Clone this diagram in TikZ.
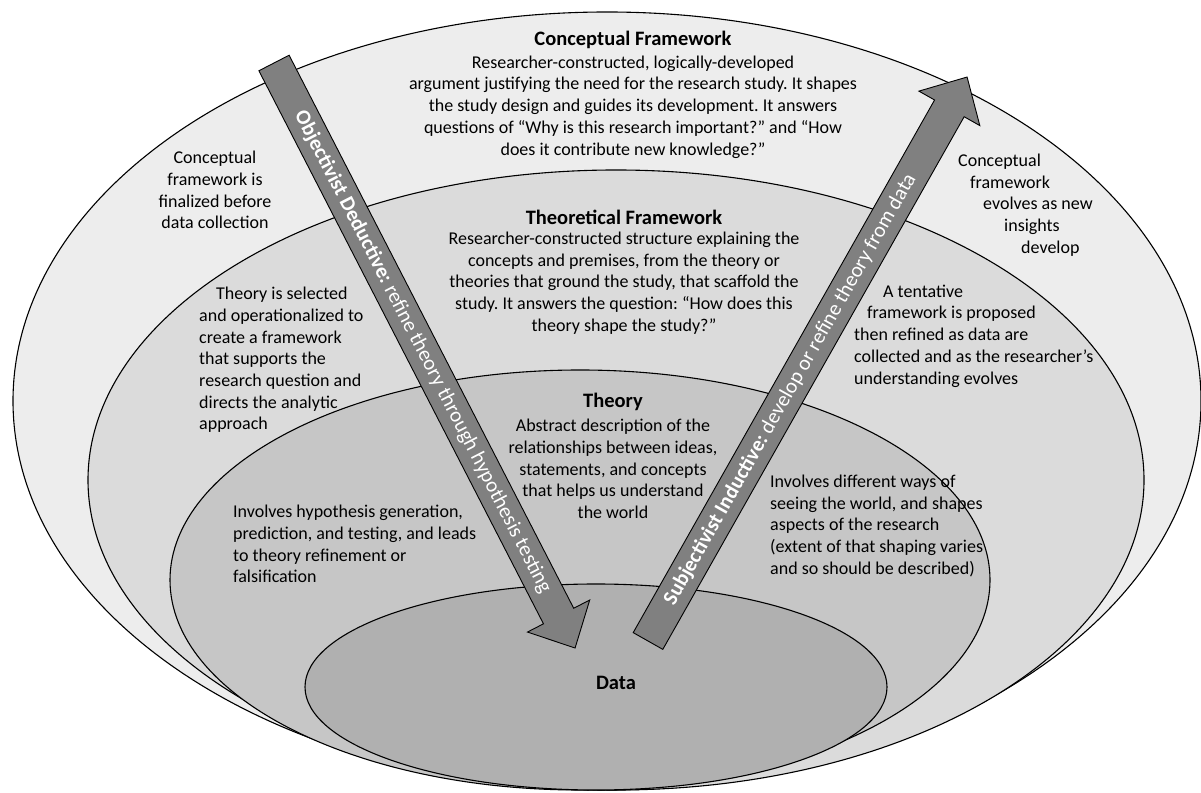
\documentclass[tikz,border=0pt]{standalone}
\usepackage{fontspec}
\setmainfont{Carlito}
\frenchspacing
\definecolor{ringA}{gray}{0.93}
\definecolor{ringB}{gray}{0.86}
\definecolor{ringC}{gray}{0.775}
\definecolor{ringD}{gray}{0.69}
\definecolor{shaft}{gray}{0.50}

\begin{document}
\begin{tikzpicture}[x=1pt, y=1pt,
      ring/.style ={draw, line width=1.1pt},
      heading/.style ={inner sep=0pt, font=\bfseries\fontsize{20.5}{22}\selectfont},
      body/.style ={inner sep=0pt, align=center, font=\fontsize{18}{21.7}\selectfont},
      side/.style ={inner sep=0pt, align=left, anchor=west, font=\fontsize{18}{21.7}\selectfont},
      bigarrow/.style ={fill=shaft, draw=black, line width=0.9pt},
      arrowtext/.style ={inner sep=0pt, text=white, font=\fontsize{21}{22}\selectfont}]
   \useasboundingbox (0,0) rectangle (1201,792);

   \draw[ring, fill=ringA] (607,391) ellipse [x radius=594pt, y radius=389pt];
   \draw[ring, fill=ringB] (616,312) ellipse [x radius=528pt, y radius=310pt];
   \draw[ring, fill=ringC] (580,212) ellipse [x radius=410pt, y radius=210pt];
   \draw[ring, fill=ringD] (596,105) ellipse [x radius=291pt, y radius=103pt];

   \node[heading] (cfTitle) at (633,752) {Conceptual Framework};
   \node[body] (cfText) at (633,685) {Researcher-constructed, logically-developed\\
      argument justifying the need for the research study. It shapes\\
      the study design and guides its development. It answers\\
      questions of “Why is this research important?” and “How\\
      does it contribute new knowledge?”};
   \node[body] (cfBefore) at (215,602) {Conceptual\\framework is\\finalized before\\data collection};
   \node[side] (cfEvolves) at (958,587) {Conceptual\\
      \hspace*{12pt}framework\\
      \hspace*{25pt}evolves as new\\
      \hspace*{46pt}insights\\
      \hspace*{63pt}develop};

   \node[heading] (tfTitle) at (624,575) {Theoretical Framework};
   \node[body] (tfText) at (624,509) {Researcher-constructed structure explaining the\\
      concepts and premises, from the theory or\\
      theories that ground the study, that scaffold the\\
      study. It answers the question: “How does this\\
      theory shape the study?”};
   \node[side] (tfSelected) at (199,432) {\hspace*{17pt}Theory is selected\\
      and operationalized to\\
      create a framework\\
      that supports the\\
      research question and\\
      directs the analytic\\
      approach};
   \node[side] (tfTentative) at (854,456) {\hspace*{29pt}A tentative\\
      \hspace*{13pt}framework is proposed\\
      then refined as data are\\
      collected and as the researcher’s\\
      understanding evolves};

   \node[heading] (thTitle) at (613,390) {Theory};
   \node[body] (thText) at (613,323) {Abstract description of the\\
      relationships between ideas,\\
      statements, and concepts\\
      that helps us understand\\
      the world};
   \node[side] (thDeductive) at (233,248) {Involves hypothesis generation,\\
      prediction, and testing, and leads\\
      to theory refinement or\\
      falsification};
   \node[side] (thInductive) at (770,266) {Involves different ways of\\
      seeing the world, and shapes\\
      aspects of the research\\
      (extent of that shaping varies\\
      and so should be described)};

   \node[heading] (dataTitle) at (616,109) {Data};

   % objectivist deductive arrow
   \coordinate (odTail) at (274,729);
   \coordinate (odTip) at (575,144);
   \begin{scope}[shift={(odTail)}, rotate=-62.77]
      \draw[bigarrow] (0,-17) -- (622,-17) -- (622,-35) -- (658,0)
         -- (622,35) -- (622,17) -- (0,17) -- cycle;
      \node[arrowtext, rotate=-62.77] (odLabel) at (325,0)
         {\textbf{Objectivist Deductive:} refine theory through hypothesis testing};
   \end{scope}

   % subjectivist inductive arrow
   \coordinate (siTail) at (648,151);
   \coordinate (siTip) at (967,715);
   \begin{scope}[shift={(siTail)}, rotate=60.5]
      \draw[bigarrow] (0,-17) -- (612,-17) -- (612,-35) -- (648,0)
         -- (612,35) -- (612,17) -- (0,17) -- cycle;
      \node[arrowtext, rotate=60.5] (siLabel) at (289,0)
         {\textbf{Subjectivist Inductive:} develop or refine theory from data};
   \end{scope}
\end{tikzpicture}
\end{document}
